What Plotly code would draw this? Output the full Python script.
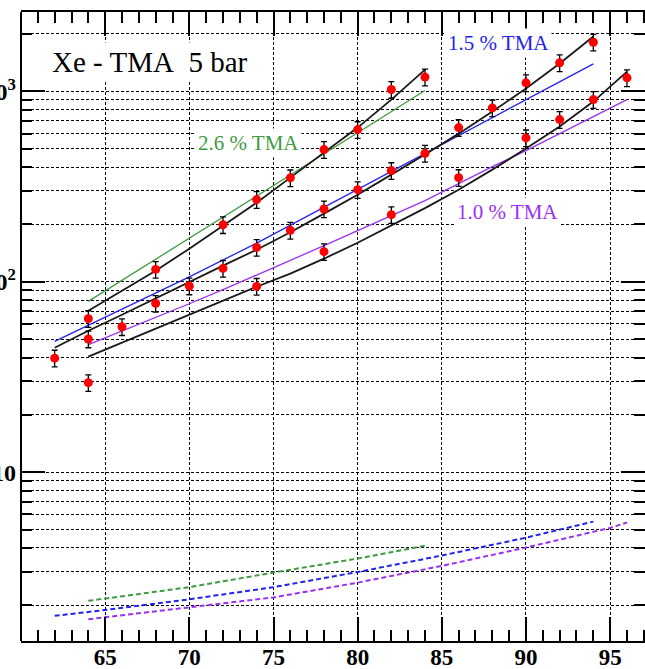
import plotly.graph_objects as go

# ---- measured points (red markers), one list per TMA concentration ----
x_26 = [64, 68, 72, 74, 76, 78, 80, 82, 84]
y_26 = [64, 116, 199, 270, 351, 494, 629, 1021, 1187]

x_15 = [62, 64, 66, 68, 70, 72, 74, 76, 78, 80, 82, 84, 86, 88, 90, 92, 94]
y_15 = [39.7, 50.0, 58.0, 76.9, 94.9, 117.5, 151.4, 186.1, 241.0, 304.3,
        383.1, 472.3, 644.6, 818.0, 1107, 1410, 1809]

x_10 = [64, 74, 78, 82, 86, 90, 92, 94, 96]
y_10 = [29.5, 94.5, 143.8, 224.9, 352.0, 569.1, 710.2, 904.5, 1176]

# ---- black fit curves ----
fit_x_26 = [64, 66, 68, 70, 72, 74, 76, 78, 80, 82, 84]
fit_y_26 = [70.4, 89.7, 114.2, 149.1, 197.0, 260.1, 352.0, 476.4, 644.6, 904.5, 1300]

fit_x_15 = [62, 64, 66, 68, 70, 72, 74, 76, 78, 80, 82, 84, 86, 88, 90, 92, 94]
fit_y_15 = [45.0, 55.3, 67.1, 81.9, 100.0, 121.4, 147.3, 182.0, 227.7, 286.5,
            365.0, 465.0, 599.2, 782.1, 1033, 1398, 1939]

fit_x_10 = [64, 66, 68, 70, 72, 74, 76, 78, 80, 82, 84, 86, 88, 90, 92, 94, 96]
fit_y_10 = [40.4, 47.8, 56.6, 67.1, 79.5, 94.1, 110.2, 132.1, 160.3, 197.0,
            243.4, 304.3, 387.7, 500.0, 652.4, 883.0, 1269]

# ---- coloured model curves ----
model_x_26 = [64, 74, 84]
model_y_26 = [78.8, 281.8, 1008.5]

model_x_15 = [62, 66, 70, 74, 78, 82, 86, 90, 94]
model_y_15 = [48.6, 71.7, 106.0, 159.5, 245.7, 378.4, 585.2, 902.3, 1393]

model_x_10 = [64, 66, 68, 70, 72, 74, 76, 78, 80, 82, 84, 86, 88, 90, 92, 94, 96]
model_y_10 = [46.7, 54.9, 64.7, 76.6, 90.8, 108.2, 129.0, 154.6, 185.4, 222.2,
              266.5, 327.3, 402.1, 488.0, 599.2, 736.3, 904.5]

# ---- dashed low-gain curves ----
low_x_26 = [64, 65, 70, 75, 80, 84]
low_y_26 = [2.11, 2.17, 2.49, 2.97, 3.52, 4.11]

low_x_15 = [62, 65, 70, 75, 80, 85, 90, 94]
low_y_15 = [1.76, 1.89, 2.15, 2.49, 2.99, 3.65, 4.53, 5.50]

low_x_10 = [64, 65, 70, 75, 80, 85, 90, 95, 96]
low_y_10 = [1.69, 1.73, 1.95, 2.20, 2.63, 3.22, 4.02, 5.10, 5.44]

# ---- axis ticks ----
x_ticks = [65, 70, 75, 80, 85, 90, 95]
x_minor = [v for v in range(61, 98) if v % 5 != 0]
y_ticks = [10, 100, 1000]
y_tick_text = ["10", "10<sup>2</sup>", "10<sup>3</sup>"]
y_minor = [m * 10 ** d for d in range(0, 4) for m in range(2, 10) if m * 10 ** d <= 2600]

GREEN = "#3f9b3f"
BLUE = "#2323f0"
PURPLE = "#9b30f5"
SERIF = "Liberation Serif"

fig = go.Figure()

for lx, ly, c in [(low_x_26, low_y_26, GREEN), (low_x_15, low_y_15, BLUE),
                  (low_x_10, low_y_10, PURPLE)]:
    fig.add_trace(go.Scatter(x=lx, y=ly, mode="lines",
                             line=dict(color=c, width=2, dash="5px,3px")))

for mx, my, c in [(model_x_26, model_y_26, GREEN), (model_x_15, model_y_15, BLUE),
                  (model_x_10, model_y_10, PURPLE)]:
    fig.add_trace(go.Scatter(x=mx, y=my, mode="lines", line=dict(color=c, width=1.3)))

for fx, fy in [(fit_x_26, fit_y_26), (fit_x_15, fit_y_15), (fit_x_10, fit_y_10)]:
    fig.add_trace(go.Scatter(x=fx, y=fy, mode="lines", line=dict(color="#1a1a1a", width=1.8)))

for px, py in [(x_26, y_26), (x_15, y_15), (x_10, y_10)]:
    fig.add_trace(go.Scatter(
        x=px, y=py, mode="markers",
        marker=dict(color="#ff0000", size=9, line=dict(width=0)),
        error_y=dict(type="percent", value=10, color="black", thickness=1.3, width=3),
    ))

grid = dict(showgrid=True, gridcolor="black", gridwidth=1, griddash="3px,2px")

fig.update_layout(
    width=645, height=669,
    margin=dict(l=21, r=0, t=12, b=28),
    paper_bgcolor="white", plot_bgcolor="white",
    showlegend=False,
    xaxis=dict(
        range=[60, 97.07], tickmode="array", tickvals=x_ticks, automargin=False,
        ticks="inside", ticklen=24, tickwidth=1.5, tickcolor="black",
        showline=True, linewidth=2, linecolor="black", mirror="allticks",
        zeroline=False, ticklabelstandoff=-6,
        tickfont=dict(family=SERIF, size=23, color="black", weight="bold"),
        minor=dict(tickmode="array", tickvals=x_minor, ticks="inside", ticklen=11,
                   tickwidth=1.5, tickcolor="black", showgrid=False),
        **grid,
    ),
    yaxis=dict(
        type="log", range=[0.1135, 3.4162], tickmode="array", automargin=False,
        tickvals=y_ticks, ticktext=y_tick_text,
        ticks="inside", ticklen=24, tickwidth=1.5, tickcolor="black",
        showline=False, mirror="allticks", zeroline=False, ticklabelstandoff=4,
        tickfont=dict(family=SERIF, size=24, color="black", weight="bold"),
        minor=dict(tickmode="array", tickvals=y_minor, ticks="inside", ticklen=11,
                   tickwidth=1.5, tickcolor="black", **grid),
        **grid,
    ),
    shapes=[dict(type="line", xref="paper", yref="paper", x0=0, x1=0, y0=0, y1=1,
                 line=dict(color="black", width=2))],
)

labels = [
    ("Xe - TMA\u00a0\u00a05 bar", 0.2075, 0.9204, 29, "black", 3),
    ("2.6 % TMA", 0.3646, 0.7916, 21, GREEN, 2),
    ("1.5 % TMA", 0.766, 0.9507, 21, BLUE, 2),
    ("1.0 % TMA", 0.7804, 0.6826, 21, PURPLE, 2),
]
for text, ax_, ay_, size, color, pad in labels:
    fig.add_annotation(text=text, xref="paper", yref="paper", x=ax_, y=ay_,
                       xanchor="center", yanchor="middle", showarrow=False,
                       bgcolor="white", borderpad=pad,
                       font=dict(family=SERIF, size=size, color=color))

fig.write_html("out.html")
